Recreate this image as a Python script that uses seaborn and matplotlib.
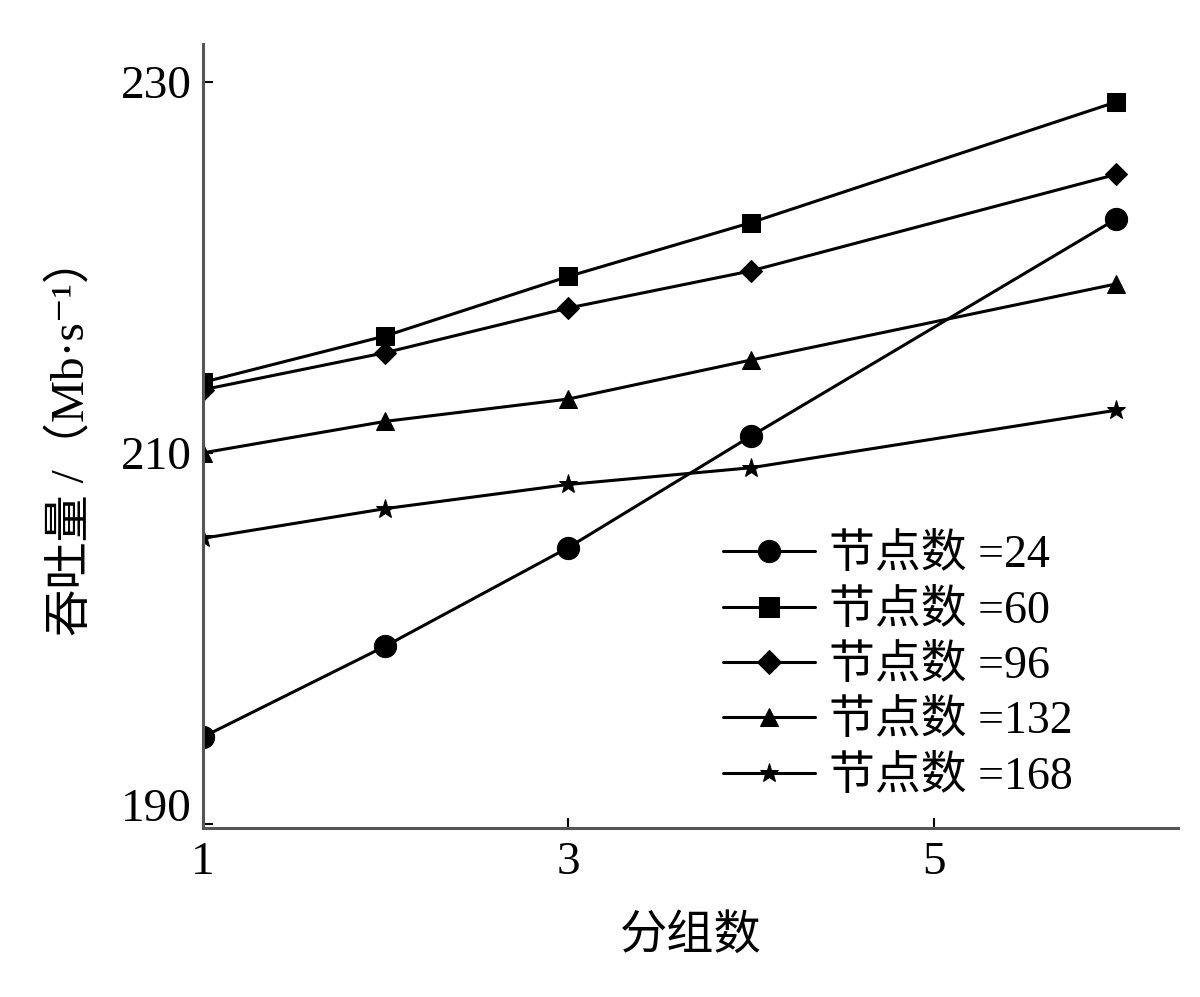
import numpy as np
import pandas as pd
import seaborn as sns
import matplotlib.pyplot as plt
import matplotlib.transforms as mtransforms

# data
groups = [1, 2, 3, 4, 6]
series_names = ["节点数 =24", "节点数 =60", "节点数 =96", "节点数 =132", "节点数 =168"]
tp_24 = [194.7, 199.6, 204.9, 210.9, 222.6]
tp_60 = [213.8, 216.3, 219.5, 222.4, 228.9]
tp_96 = [213.4, 215.4, 217.8, 219.8, 225.0]
tp_132 = [210.0, 211.7, 212.9, 215.0, 219.1]
tp_168 = [205.4, 207.0, 208.3, 209.2, 212.3]
marker_list = ["o", "s", "D", "^", "*"]
marker_sizes = [16, 13, 11, 13, 14]

rows = []
for name, vals in zip(series_names, [tp_24, tp_60, tp_96, tp_132, tp_168]):
    for g, v in zip(groups, vals):
        rows.append({"g": g, "tp": v, "series": name})
df = pd.DataFrame(rows)

sns.set_style("ticks")
plt.rcParams['font.family'] = ['Liberation Serif', 'Noto Sans CJK SC', 'DejaVu Serif']
plt.rcParams['text.color'] = 'black'
plt.rcParams['axes.labelcolor'] = 'black'
plt.rcParams['xtick.color'] = 'black'
plt.rcParams['ytick.color'] = 'black'

fig = plt.figure(figsize=(12, 9.97), dpi=100)
ax = fig.add_axes([0.169, 0.1695, 0.813, 0.786])

sns.lineplot(data=df, x="g", y="tp", style="series", markers=dict(zip(series_names, marker_list)),
             dashes=False, color="black", linewidth=2.2, markersize=15,
             markeredgecolor="black", ax=ax)
for line, ms in zip(ax.lines, marker_sizes):
    line.set_markersize(ms)

ax.set_xlim(1, 6.34)
ax.set_ylim(189.8, 232)
ax.set_xticks([1, 3, 5])
ax.set_yticks([190, 210, 230])
ax.tick_params(direction="in", length=7, width=1.5, labelsize=34)
ax.tick_params(axis="x", pad=10)
ax.tick_params(axis="y", pad=8)
for s in ["top", "right"]:
    ax.spines[s].set_visible(False)
for s in ["left", "bottom"]:
    ax.spines[s].set_linewidth(2.2)
    ax.spines[s].set_color("#555555")

# lift the 190 label a little, as in the original
lbl = ax.get_yticklabels()[0]
lbl.set_transform(lbl.get_transform() + mtransforms.ScaledTranslation(0, 14 / 72, fig.dpi_scale_trans))

ax.set_xlabel("分组数", fontsize=34, labelpad=22)
ax.set_ylabel("吞吐量 /（Mb·s⁻¹）", fontsize=34, labelpad=20)

leg = ax.legend(loc="lower left", bbox_to_anchor=(0.51, 0.008), frameon=False,
                fontsize=33, handlelength=2.0, labelspacing=0.27, handletextpad=0.3,
                borderpad=0)
for h, ms in zip(leg.legend_handles, [16, 14, 12, 13, 14]):
    h.set_color("black")
    h.set_markersize(ms)

fig.savefig("out.png", dpi=100)
